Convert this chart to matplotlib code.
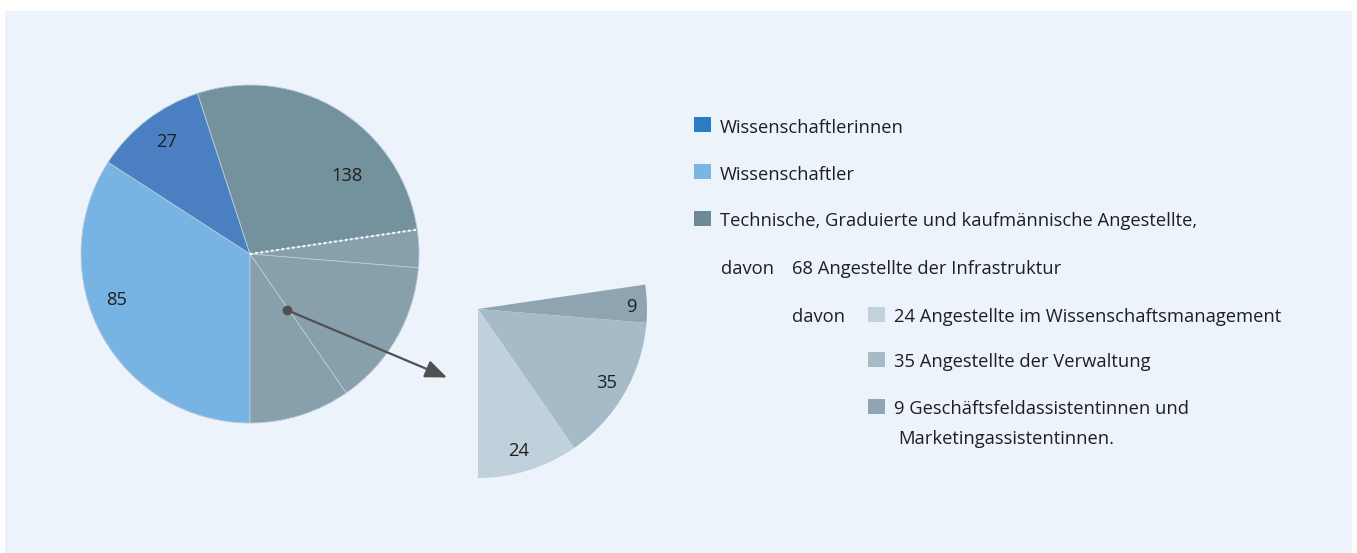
import numpy as np
import matplotlib.pyplot as plt
from matplotlib.patches import Rectangle, FancyArrowPatch

plt.rcParams['font.family'] = ['Open Sans', 'DejaVu Sans']

# ---- data ----
# wedge order, clockwise from the bottom
slice_names = ["Wissenschaftler", "Wissenschaftlerinnen", "Technische",
               "Geschäftsfeld", "Verwaltung", "Wissenschaftsmanagement"]
slice_labels = ["85", "27", "138", "9", "35", "24"]
# wedge sizes as drawn (the 138 wedge is drawn at about half its count)
slice_sizes = [85, 27, 69, 9, 35, 24]

legend_top = ["Wissenschaftlerinnen", "Wissenschaftler",
              "Technische, Graduierte und kaufmännische Angestellte,"]
legend_sub = ["24 Angestellte im Wissenschaftsmanagement",
              "35 Angestellte der Verwaltung",
              "9 Geschäftsfeldassistentinnen und"]

# ---- styles ----
BG = "#ecf3fb"
TXT = "#1f1f1f"
FS = 13.2
main_colors = ["#78b4e3", "#4a80c2", "#74919e", "#87a0ab", "#87a0ab", "#87a0ab"]
detail_colors = ["none", "none", "none", "#8ea5b1", "#a5bbc8", "#c0d1db"]
legend_top_colors = ["#2a7dc4", "#7ab6e4", "#6d8896"]
legend_sub_colors = ["#c2d2dc", "#a7bbc7", "#8fa5b1"]

W, H = 1357, 553
fig = plt.figure(figsize=(W / 100, H / 100), dpi=100)
ax = fig.add_axes([0, 0, 1, 1])
ax.add_patch(Rectangle((5, 0), 1347, 542, facecolor=BG, edgecolor="none", zorder=0))

R = 169
c_main = (250, H - 254)
c_det = (478, H - 309)

ax.pie(slice_sizes, colors=main_colors, startangle=270, counterclock=False,
       center=c_main, radius=R,
       wedgeprops=dict(edgecolor="#b9cbd7", linewidth=0.6))
ax.pie(slice_sizes, colors=detail_colors, startangle=270, counterclock=False,
       center=c_det, radius=R,
       wedgeprops=dict(edgecolor="none", linewidth=0))

# dotted divider between the 138 wedge and the 68 group
total = sum(slice_sizes)
theta = np.deg2rad(270 - 360 * sum(slice_sizes[:3]) / total)
ax.plot([c_main[0], c_main[0] + R * np.cos(theta)],
        [c_main[1], c_main[1] + R * np.sin(theta)],
        color="white", lw=1.6, linestyle=(0, (1, 1.4)), zorder=5)

# wedge value labels (centre x, baseline y in pixels)
label_pos = [(116.7, 305.3), (166.7, 146.7), (346.7, 181), (631, 311.7),
             (607, 388.3), (518.5, 456)]
for lab, (x, y) in zip(slice_labels, label_pos):
    ax.text(x, H - y, lab, fontsize=FS, color=TXT, ha="center", va="baseline", zorder=6)

# arrow from main pie to detail
ax.plot(286.7, H - 310, "o", color="#505050", markersize=6, zorder=7)
ax.add_patch(FancyArrowPatch((286.7, H - 310), (447, H - 377.5),
                             arrowstyle="-|>,head_length=1.1,head_width=0.45",
                             mutation_scale=12, color="#505050", lw=1.6, zorder=7,
                             shrinkA=0, shrinkB=0))

# legend
sq_w, sq_h = 17, 15
top_base = [133.3, 180, 226.5]
for t, c, y in zip(legend_top, legend_top_colors, top_base):
    ax.add_patch(Rectangle((693.5, H - y + 1), sq_w, sq_h, facecolor=c, edgecolor="none"))
    ax.text(720, H - y, t, fontsize=FS, color=TXT, va="baseline", ha="left")

ax.text(720.5, H - 274, "davon", fontsize=FS, color=TXT, va="baseline", ha="left")
ax.text(792, H - 274, "68 Angestellte der Infrastruktur", fontsize=FS, color=TXT,
        va="baseline", ha="left")
ax.text(792, H - 321.7, "davon", fontsize=FS, color=TXT, va="baseline", ha="left")
sub_base = [321.7, 367.3, 414]
for t, c, y in zip(legend_sub, legend_sub_colors, sub_base):
    ax.add_patch(Rectangle((867.5, H - y), sq_w, sq_h, facecolor=c, edgecolor="none"))
    ax.text(894, H - y, t, fontsize=FS, color=TXT, va="baseline", ha="left")
ax.text(898, H - 444, "Marketingassistentinnen.", fontsize=FS, color=TXT,
        va="baseline", ha="left")

ax.set_xlim(0, W)
ax.set_ylim(0, H)
ax.set_aspect("equal")
ax.axis("off")
fig.savefig("out.png", dpi=100, facecolor="white")
